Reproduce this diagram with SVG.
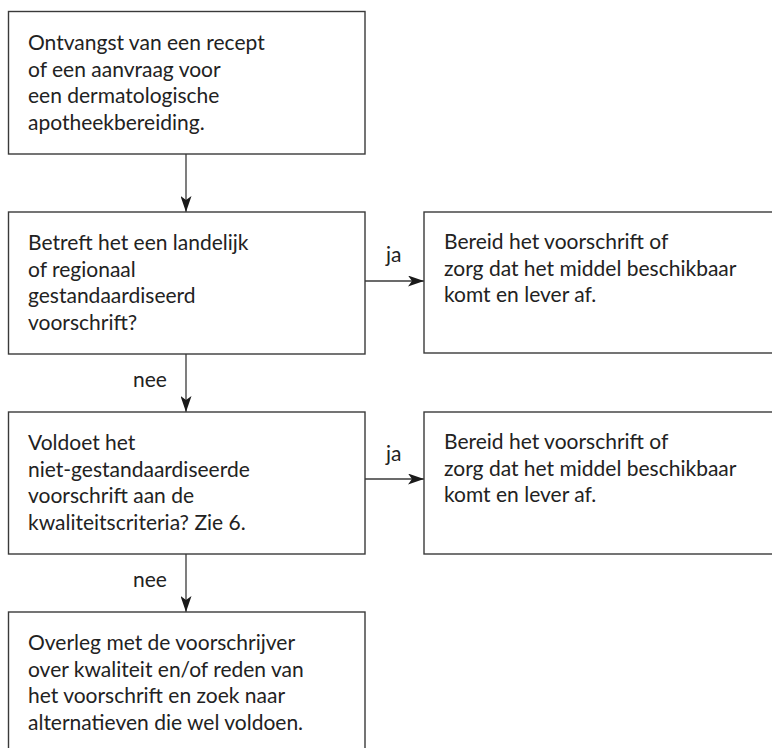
<svg xmlns="http://www.w3.org/2000/svg" width="772" height="748" viewBox="0 0 772 748">
<defs>
<style>
.box{fill:#fff;stroke:#3a3a3a;stroke-width:1.4}
.t{font-family:Lato,"Open Sans",sans-serif;font-size:21px;fill:#222}
.c{stroke:#3a3a3a;stroke-width:1.3;fill:none}
</style>
<marker id="ah" viewBox="0 0 16 11" refX="16" refY="5.5" markerWidth="16" markerHeight="11" markerUnits="userSpaceOnUse" orient="auto">
<path d="M0,0 L16,5.5 L0,11 L4,5.5 Z" fill="#1a1a1a"/>
</marker>
</defs>
<g id="connectors">
<line class="c" x1="186" y1="154" x2="186" y2="212" marker-end="url(#ah)"/>
<line class="c" x1="365" y1="281" x2="424" y2="281" marker-end="url(#ah)"/>
<text class="t" x="386" y="262">ja</text>
<line class="c" x1="186" y1="354" x2="186" y2="412" marker-end="url(#ah)"/>
<text class="t" x="133" y="387">nee</text>
<line class="c" x1="365" y1="479" x2="424" y2="479" marker-end="url(#ah)"/>
<text class="t" x="386" y="461">ja</text>
<line class="c" x1="186" y1="554" x2="186" y2="612" marker-end="url(#ah)"/>
<text class="t" x="133" y="587">nee</text>
</g>
<g id="n1">
<rect class="box" x="8.5" y="11.5" width="356.5" height="142.5"/>
<text class="t" x="28" y="50">Ontvangst van een recept</text>
<text class="t" x="28" y="76.7">of een aanvraag voor</text>
<text class="t" x="28" y="103.3">een dermatologische</text>
<text class="t" x="28" y="130">apotheekbereiding.</text>
</g>
<g id="n2">
<rect class="box" x="8.5" y="212" width="356.5" height="142"/>
<text class="t" x="28" y="250">Betreft het een landelijk</text>
<text class="t" x="28" y="276.7">of regionaal</text>
<text class="t" x="28" y="303.3">gestandaardiseerd</text>
<text class="t" x="28" y="330">voorschrift?</text>
</g>
<g id="n3">
<rect class="box" x="424" y="212" width="352" height="141"/>
<text class="t" x="444" y="249">Bereid het voorschrift of</text>
<text class="t" x="444" y="275.7">zorg dat het middel beschikbaar</text>
<text class="t" x="444" y="302.3">komt en lever af.</text>
</g>
<g id="n4">
<rect class="box" x="8.5" y="412" width="356.5" height="142"/>
<text class="t" x="28" y="450">Voldoet het</text>
<text class="t" x="28" y="476.7">niet-gestandaardiseerde</text>
<text class="t" x="28" y="503.3">voorschrift aan de</text>
<text class="t" x="28" y="530">kwaliteitscriteria? Zie 6.</text>
</g>
<g id="n5">
<rect class="box" x="424" y="412" width="352" height="142"/>
<text class="t" x="444" y="449">Bereid het voorschrift of</text>
<text class="t" x="444" y="475.7">zorg dat het middel beschikbaar</text>
<text class="t" x="444" y="502.3">komt en lever af.</text>
</g>
<g id="n6">
<rect class="box" x="8.5" y="612" width="356.5" height="150"/>
<text class="t" x="28" y="650">Overleg met de voorschrijver</text>
<text class="t" x="28" y="676.7">over kwaliteit en/of reden van</text>
<text class="t" x="28" y="703.3">het voorschrift en zoek naar</text>
<text class="t" x="28" y="730">alternatieven die wel voldoen.</text>
</g>
</svg>
